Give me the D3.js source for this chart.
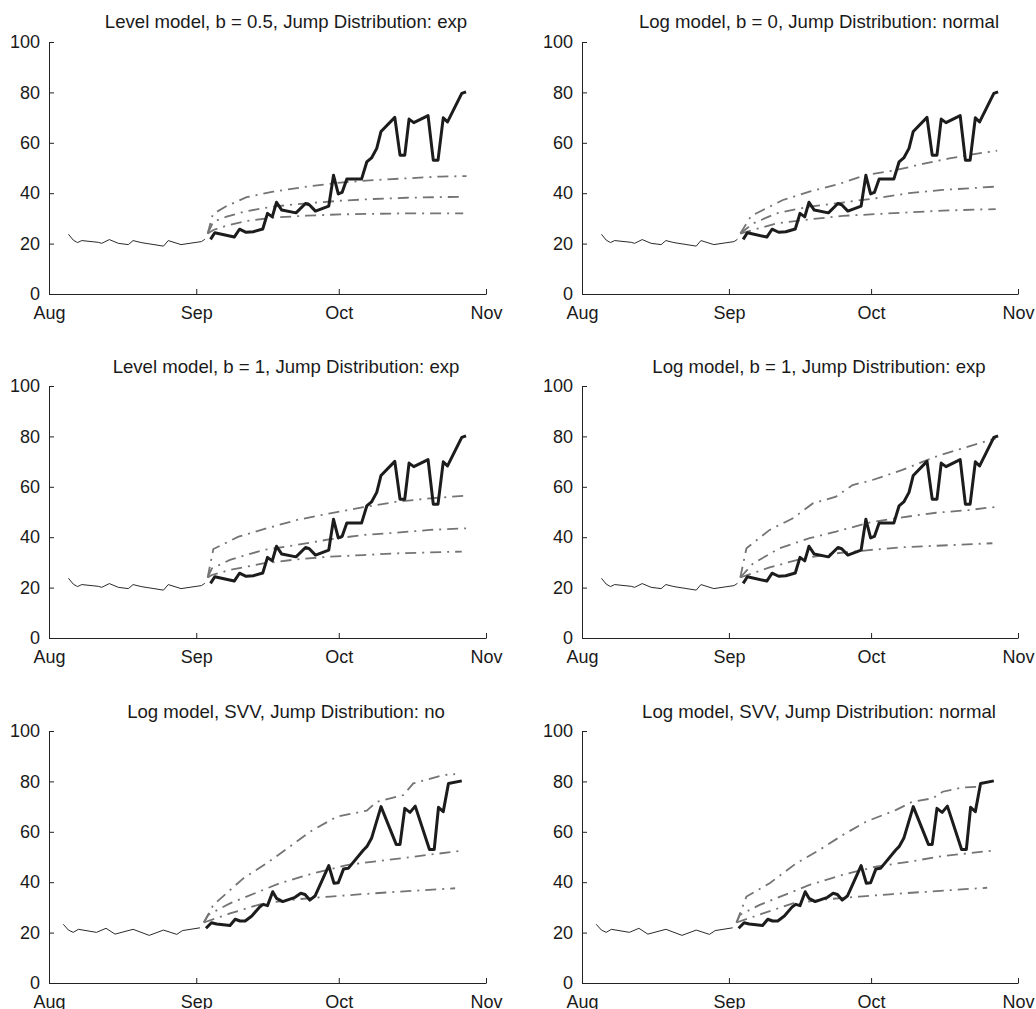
<!DOCTYPE html>
<html lang="en">
<head>
<meta charset="UTF-8">
<title>Forecast bands, six models</title>
<script src="https://d3js.org/d3.v7.min.js"></script>
<style>
    body { margin: 0; background: #fff; }
    svg text { font-family: "Liberation Sans", Arial, sans-serif; font-size: 18px; fill: #1a1a1a; }
    svg text.title { font-size: 18.6px; }
    .axis path, .axis line { stroke: #222; stroke-width: 1; }
</style>
</head>
<body>
<svg width="1036" height="1009"></svg>
<script>
// all x values are days after 1 Aug
var monthStarts = [0, 31, 61, 92];
var yTicks = [0, 20, 40, 60, 80, 100];
var titles = [
    "Level model, b = 0.5, Jump Distribution: exp",
    "Log model, b = 0, Jump Distribution: normal",
    "Level model, b = 1, Jump Distribution: exp",
    "Log model, b = 1, Jump Distribution: exp",
    "Log model, SVV, Jump Distribution: no",
    "Log model, SVV, Jump Distribution: normal"
];

// observed series, top four panels
var histTop = [[4.1,23.7],[5.1,21.4],[6.0,20.4],[6.9,21.2],[10.4,20.5],[11.1,20.1],[12.7,21.6],[14.6,20.1],
    [16.7,19.6],[17.7,21.2],[19.4,20.4],[24.1,19.0],[25.1,21.2],[27.8,19.6],[32.1,20.8],[32.8,21.7]];
var realTop = [[34.0,21.7],[34.9,24.3],[39.0,22.6],[40.1,25.7],[41.5,24.5],[43.0,24.7],[45.0,25.8],[46.0,32.0],
    [47.0,30.6],[47.9,36.4],[49.0,33.3],[52.0,32.2],[54.0,35.9],[54.8,35.4],[56.1,32.9],[58.9,34.9],
    [59.9,47.1],[60.9,39.7],[61.7,40.3],[62.7,45.6],[65.8,45.6],[66.9,52.4],[67.9,54.0],[69.0,57.8],
    [69.9,64.5],[72.8,70.1],[73.9,55.1],[74.9,55.1],[75.8,69.4],[76.8,68.0],[79.8,70.8],[80.9,53.1],
    [81.9,53.1],[83.0,69.9],[83.9,68.3],[86.9,79.6],[87.8,80.2]];

// observed series, bottom two panels
var histBottom = [[3.0,23.3],[4.1,21.0],[5.1,20.1],[6.2,21.3],[10.0,20.1],[12.0,21.7],[13.9,19.4],
    [17.7,21.3],[21.1,18.9],[24.1,21.0],[26.9,19.3],[28.1,20.8],[31.8,21.9]];
var realBottom = [[33.05,21.7],[34.2,23.9],[35.3,23.4],[38.1,22.8],[39.2,25.3],[40.2,24.6],[41.3,24.6],
    [42.7,26.6],[44.4,30.3],[45.1,31.2],[46.0,30.7],[47.1,36.2],[47.9,33.6],[49.2,32.3],[51.8,34.0],
    [53.0,35.6],[53.9,35.1],[54.9,32.9],[56.0,34.5],[58.9,46.6],[60.0,39.6],[60.9,39.8],[62.0,45.2],
    [63.0,45.5],[66.2,52.8],[66.9,54.1],[67.9,57.4],[69.9,70.0],[73.1,55.0],[73.9,55.0],[74.9,69.3],
    [76.0,67.7],[77.1,70.2],[80.1,53.0],[81.1,53.0],[82.0,69.7],[83.0,68.0],[84.1,79.2],[86.9,80.2]];

// forecast quantile lines (upper, middle, lower) per panel
var fcA_hi = [[33.4,24],[34.5,31.7],[37.4,34.9],[41.6,38.4],[47.2,40.6],[54.3,42.6],[61.3,44.2],[68.3,45.2],[75.3,45.9],[82.3,46.6],[87.9,46.8]];
var fcA_mid = [[33.4,24],[34.6,28.7],[37.4,30.7],[41.6,32.9],[47.2,34.7],[54.3,36.0],[61.3,37.0],[68.3,37.7],[75.3,38.2],[87.2,38.6]];
var fcA_lo = [[33.4,24],[34.6,25.4],[37.4,27.1],[41.6,29.0],[47.2,30.3],[54.3,31.1],[61.3,31.6],[75.3,32.0],[87.2,32.0]];

var fcB_hi = [[33.4,24],[35.7,31.0],[42.4,37.3],[48.0,40.6],[53.6,43.3],[59.9,47.2],[66.3,49.2],[71.9,51.6],[77.5,53.8],[83.1,55.6],[87.6,56.9]];
var fcB_mid = [[33.4,24],[36.1,28.0],[41.0,32.0],[48.0,34.7],[55.0,36.3],[62.0,38.0],[69.0,40.0],[76.1,41.3],[87.3,42.6]];
var fcB_lo = [[33.4,24],[41.0,28.0],[48.0,29.6],[55.0,31.0],[62.0,31.7],[69.0,32.4],[76.1,33.1],[87.3,33.7]];

var fcC_hi = [[33.4,24],[34.6,35.3],[39.9,40.2],[45.8,43.5],[52.1,46.8],[59.2,49.5],[66.2,51.9],[73.2,54.1],[80.2,55.4],[87.8,56.5]];
var fcC_mid = [[33.4,24],[34.3,27.6],[38.1,31.0],[45.1,34.9],[52.1,36.9],[59.2,39.2],[66.2,40.9],[73.2,41.8],[80.2,42.9],[87.8,43.5]];
var fcC_lo = [[33.4,24],[34.3,25.0],[38.1,27.0],[45.1,29.6],[52.1,31.2],[59.2,32.3],[66.2,32.9],[73.2,33.6],[86.9,34.3]];

var fcD_hi = [[33.4,24],[34.7,35.6],[39.6,42.9],[44.5,47.5],[48.7,53.4],[53.6,56.1],[57.1,60.7],[61.3,62.7],[67.6,66.7],[74.7,72.0],[80.3,75.3],[87.3,79.2]];
var fcD_mid = [[33.4,24],[36.1,29.6],[41.7,35.6],[48.0,39.6],[53.6,42.2],[60.6,45.8],[67.6,47.9],[74.7,49.7],[81.7,50.8],[87.6,52.1]];
var fcD_lo = [[33.4,24],[39.6,28.0],[46.6,31.6],[53.6,33.6],[60.6,34.9],[67.6,36.0],[74.7,36.6],[86.6,37.6]];

var fcE_hi = [[32.6,24],[34.6,31.0],[40.9,41.5],[45.8,47.5],[50.7,54.1],[54.9,60.0],[60.6,66.0],[66.9,68.4],[69.0,71.9],[74.6,74.6],[76.7,79.2],[83.0,82.5],[85.5,82.9]];
var fcE_mid = [[32.6,24],[33.5,27.0],[38.1,31.6],[48.6,39.6],[55.6,43.5],[62.7,46.8],[69.7,48.5],[76.7,50.1],[86.9,52.5]];
var fcE_lo = [[32.6,24],[38.1,27.6],[45.1,31.6],[52.1,33.2],[59.2,34.3],[66.2,35.3],[73.2,36.2],[85.5,37.6]];

var fcF_hi = [[32.6,24],[34.7,34.3],[39.6,39.6],[45.2,47.5],[50.1,52.8],[55.0,58.7],[59.9,64.0],[66.3,68.7],[69.7,71.9],[74.0,73.3],[76.1,75.9],[80.3,77.6],[83.8,77.9]];
var fcF_mid = [[32.6,24],[33.3,27.0],[37.5,31.0],[48.0,38.9],[55.0,42.9],[62.0,46.2],[69.0,48.1],[76.1,50.4],[86.6,52.5]];
var fcF_lo = [[32.6,24],[38.2,27.6],[44.5,31.6],[51.5,33.2],[58.5,34.3],[65.6,35.3],[72.6,36.2],[85.5,37.8]];

var svg = d3.select("svg");
var base = new Date(2008, 7, 1);
function toDate(day) { return new Date(base.getTime() + day * 864e5); }

var cols = [{x0: 49, x1: 486}, {x0: 582, x1: 1018}];
var rows = [{top: 42, bottom: 294, title: 28}, {top: 386, bottom: 638, title: 373}, {top: 731, bottom: 983, title: 718}];

var panels = [
    {hist: histTop, real: realTop, fc: [fcA_hi, fcA_mid, fcA_lo]},
    {hist: histTop, real: realTop, fc: [fcB_hi, fcB_mid, fcB_lo]},
    {hist: histTop, real: realTop, fc: [fcC_hi, fcC_mid, fcC_lo]},
    {hist: histTop, real: realTop, fc: [fcD_hi, fcD_mid, fcD_lo]},
    {hist: histBottom, real: realBottom, fc: [fcE_hi, fcE_mid, fcE_lo]},
    {hist: histBottom, real: realBottom, fc: [fcF_hi, fcF_mid, fcF_lo]}
];

panels.forEach(function(p, i) {
    var c = cols[i % 2], r = rows[Math.floor(i / 2)];
    var x = d3.scaleTime().domain([toDate(0), toDate(92)]).range([c.x0, c.x1]);
    var y = d3.scaleLinear().domain([0, 100]).range([r.bottom, r.top]);
    var g = svg.append("g");

    g.append("text")
        .attr("class", "title")
        .attr("x", c.x0 + 237)
        .attr("y", r.title)
        .attr("text-anchor", "middle")
        .text(titles[i]);

    g.append("g")
        .attr("class", "axis")
        .attr("transform", "translate(0," + r.bottom + ")")
        .call(d3.axisBottom(x)
            .tickValues(monthStarts.map(toDate))
            .tickFormat(d3.timeFormat("%b"))
            .tickSizeInner(-5).tickSizeOuter(0).tickPadding(12));

    g.append("g")
        .attr("class", "axis")
        .attr("transform", "translate(" + c.x0 + ",0)")
        .call(d3.axisLeft(y)
            .tickValues(yTicks)
            .tickSizeInner(-5).tickSizeOuter(0).tickPadding(9));

    var line = d3.line()
        .x(function(d) { return x(toDate(d[0])); })
        .y(function(d) { return y(d[1]); });

    // forecast quantiles
    p.fc.forEach(function(f) {
        g.append("path")
            .attr("d", line(f))
            .attr("fill", "none")
            .attr("stroke", "#747474")
            .attr("stroke-width", 1.8)
            .attr("stroke-dasharray", "11,6,2,6");
    });

    g.append("path")
        .attr("d", line(p.hist))
        .attr("fill", "none")
        .attr("stroke", "#2a2a2a")
        .attr("stroke-width", 1);

    g.append("path")
        .attr("d", line(p.real))
        .attr("fill", "none")
        .attr("stroke", "#1c1c1c")
        .attr("stroke-width", 3)
        .attr("stroke-linejoin", "round");
});
</script>
</body>
</html>
